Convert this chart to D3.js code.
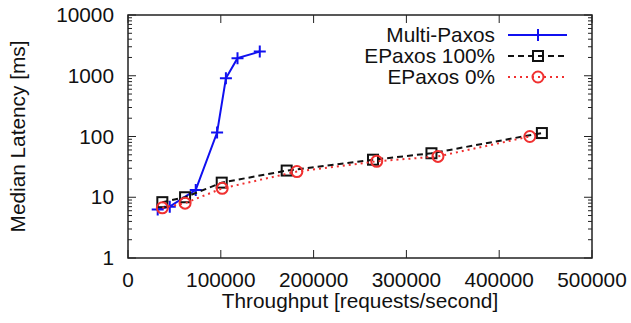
<!DOCTYPE html>
<html>
<head>
<meta charset="utf-8">
<script src="https://cdn.jsdelivr.net/npm/d3@7"></script>
<style>
  body { margin: 0; background: #fff; }
  text { font-family: "Liberation Sans", Arial, sans-serif; fill: #111; }
</style>
</head>
<body>
<svg id="chart" width="631" height="323"></svg>
<script>
// Multi-Paxos
const mpX = [32000, 45000, 73000, 96000, 105500, 118000, 142000];
const mpY = [6.3, 7.0, 13.2, 116, 910, 1950, 2500];
// EPaxos 100%
const ep100X = [37000, 61500, 101000, 171000, 264000, 327000, 446000];
const ep100Y = [8.3, 10.0, 17.4, 27.5, 41.5, 53, 114];
// EPaxos 0%
const ep0X = [37000, 61500, 101500, 182000, 268000, 334000, 433000];
const ep0Y = [6.7, 8.0, 14.0, 26.5, 39, 47, 100];

const xTicks = [0, 100000, 200000, 300000, 400000, 500000];
const yTicks = [1, 10, 100, 1000, 10000];

const seriesNames = ['Multi-Paxos', 'EPaxos 100%', 'EPaxos 0%'];

const svg = d3.select('#chart');
const margin = { left: 128, right: 39, top: 15, bottom: 65 };
const width = 631, height = 323;
const fs = 20.8;

const xScale = d3.scaleLinear().domain([0, 500000]).range([margin.left, width - margin.right]);
const yScale = d3.scaleLog().domain([1, 10000]).range([height - margin.bottom, margin.top]);

const x0 = xScale.range()[0], x1 = xScale.range()[1];
const y0 = yScale.range()[0], y1 = yScale.range()[1];

// minor ticks for log axis
const minorY = [];
yTicks.slice(0, -1).forEach(d => { for (let k = 2; k <= 9; k++) minorY.push(d * k); });

const ticks = svg.append('g').attr('stroke', '#222').attr('stroke-width', 1);
xTicks.forEach(d => {
  ticks.append('line').attr('x1', xScale(d)).attr('x2', xScale(d)).attr('y1', y0).attr('y2', y0 - 8);
  ticks.append('line').attr('x1', xScale(d)).attr('x2', xScale(d)).attr('y1', y1).attr('y2', y1 + 8);
});
yTicks.forEach(d => {
  ticks.append('line').attr('x1', x0).attr('x2', x0 + 8).attr('y1', yScale(d)).attr('y2', yScale(d));
  ticks.append('line').attr('x1', x1).attr('x2', x1 - 8).attr('y1', yScale(d)).attr('y2', yScale(d));
});
minorY.forEach(d => {
  ticks.append('line').attr('x1', x0).attr('x2', x0 + 4).attr('y1', yScale(d)).attr('y2', yScale(d));
  ticks.append('line').attr('x1', x1).attr('x2', x1 - 4).attr('y1', yScale(d)).attr('y2', yScale(d));
});

svg.append('rect')
  .attr('x', x0).attr('y', y1)
  .attr('width', x1 - x0).attr('height', y0 - y1)
  .attr('fill', 'none').attr('stroke', '#222').attr('stroke-width', 1.5);

// tick labels
svg.append('g').selectAll('text').data(xTicks).join('text')
  .attr('x', d => xScale(d)).attr('y', y0 + 29)
  .attr('text-anchor', 'middle').attr('font-size', fs)
  .text(d => d);
svg.append('g').selectAll('text').data(yTicks).join('text')
  .attr('x', x0 - 14).attr('y', d => yScale(d) + 7)
  .attr('text-anchor', 'end').attr('font-size', fs)
  .text(d => d);

// axis titles
svg.append('text')
  .attr('x', (x0 + x1) / 2).attr('y', 308)
  .attr('text-anchor', 'middle').attr('font-size', fs)
  .text('Throughput [requests/second]');
svg.append('text')
  .attr('transform', `translate(25,${(y0 + y1) / 2}) rotate(-90)`)
  .attr('text-anchor', 'middle').attr('font-size', fs)
  .text('Median Latency [ms]');

const series = [
  { name: seriesNames[0], xs: mpX, ys: mpY, color: '#1010f0', dash: null, marker: 'plus' },
  { name: seriesNames[1], xs: ep100X, ys: ep100Y, color: '#111', dash: '6,4', marker: 'square' },
  { name: seriesNames[2], xs: ep0X, ys: ep0Y, color: '#f03030', dash: '2,4', marker: 'circle' }
];

function drawMarker(g, type, cx, cy, color) {
  if (type === 'plus') {
    g.append('path').attr('d', `M${cx - 6},${cy}H${cx + 6}M${cx},${cy - 6}V${cy + 6}`)
      .attr('stroke', color).attr('stroke-width', 2).attr('fill', 'none');
  } else if (type === 'square') {
    g.append('rect').attr('x', cx - 5).attr('y', cy - 5).attr('width', 10).attr('height', 10)
      .attr('stroke', color).attr('stroke-width', 2).attr('fill', 'none');
  } else {
    g.append('circle').attr('cx', cx).attr('cy', cy).attr('r', 5.5)
      .attr('stroke', color).attr('stroke-width', 2).attr('fill', 'none');
  }
}

const line = d3.line().x(d => xScale(d[0])).y(d => yScale(d[1]));

series.forEach(s => {
  const pts = s.xs.map((x, i) => [x, s.ys[i]]);
  const g = svg.append('g');
  g.append('path').datum(pts)
    .attr('fill', 'none').attr('stroke', s.color).attr('stroke-width', 2)
    .attr('stroke-dasharray', s.dash)
    .attr('d', line);
  pts.forEach(p => drawMarker(g, s.marker, xScale(p[0]), yScale(p[1]), s.color));
});

// legend
const legend = svg.append('g');
series.forEach((s, i) => {
  const cy = 35 + i * 21;
  legend.append('text').attr('x', 495).attr('y', cy + 7)
    .attr('text-anchor', 'end').attr('font-size', fs).text(s.name);
  legend.append('line').attr('x1', 508).attr('x2', 567).attr('y1', cy).attr('y2', cy)
    .attr('stroke', s.color).attr('stroke-width', 2).attr('stroke-dasharray', s.dash);
  drawMarker(legend, s.marker, 538, cy, s.color);
});
</script>
</body>
</html>
